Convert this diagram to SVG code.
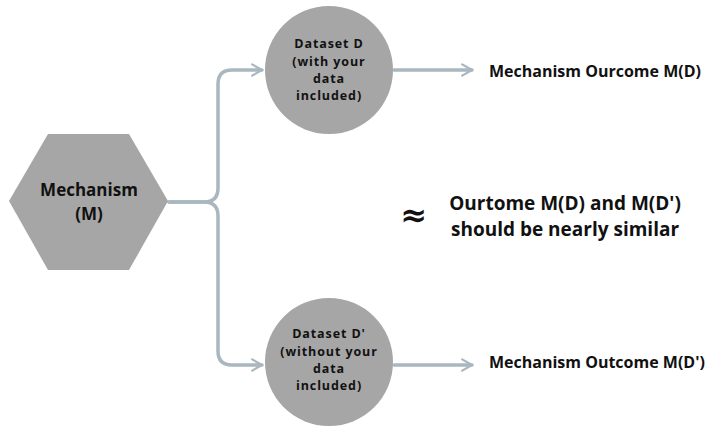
<svg xmlns="http://www.w3.org/2000/svg" width="711" height="429" viewBox="0 0 711 429">
<defs>
<style>
.shape{fill:#a6a6a6;}
.conn{fill:none;stroke:#a9b7c0;stroke-width:3.5;stroke-linecap:round;stroke-linejoin:round;}
.t{font-family:"Open Sans","Noto Sans",sans-serif;font-weight:bold;fill:#111;text-anchor:middle;}
.s{font-size:12.5px;letter-spacing:0.9px;}
.m{font-size:17px;}
.l{font-size:19px;}
.o{font-size:16px;text-anchor:start;}
</style>
<marker id="arr" viewBox="0 0 10 10" refX="8" refY="5" markerWidth="4" markerHeight="4" orient="auto" markerUnits="strokeWidth">
<path d="M1,1 L8,5 L1,9" fill="none" stroke="#a9b7c0" stroke-width="1.6" stroke-linecap="round" stroke-linejoin="round"/>
</marker>
</defs>
<rect width="711" height="429" fill="#fff"/>
<g id="connectors">
<path class="conn" d="M169,202 H204 Q218,202 218,188 V84 Q218,70 232,70 H262" marker-end="url(#arr)"/>
<path class="conn" d="M169,202 H204 Q218,202 218,216 V351 Q218,365 232,365 H262" marker-end="url(#arr)"/>
<path class="conn" d="M394,70 H472" marker-end="url(#arr)"/>
<path class="conn" d="M394,365 H472" marker-end="url(#arr)"/>
</g>
<g id="mechanism">
<polygon class="shape" points="9,201 48,134 129,134 168,201 129,270 48,270"/>
<text class="t m" x="89" y="196">Mechanism</text>
<text class="t m" x="89" y="220">(M)</text>
</g>
<g id="datasetD">
<circle class="shape" cx="329" cy="70" r="64"/>
<text class="t s" x="329" y="48">Dataset D</text>
<text class="t s" x="329" y="66">(with your</text>
<text class="t s" x="329" y="83">data</text>
<text class="t s" x="329" y="100">included)</text>
</g>
<g id="datasetD2">
<circle class="shape" cx="329" cy="362" r="64"/>
<text class="t s" x="329" y="338">Dataset D'</text>
<text class="t s" x="329" y="356">(without your</text>
<text class="t s" x="329" y="373">data</text>
<text class="t s" x="329" y="390">included)</text>
</g>
<g id="outcomeD">
<text class="t o" x="489" y="77">Mechanism Ourcome M(D)</text>
</g>
<g id="outcomeD2">
<text class="t o" x="489" y="368">Mechanism Outcome M(D')</text>
</g>
<g id="similar">
<text class="t" style="font-family:'DejaVu Sans',sans-serif;font-size:32px" x="414" y="226">≈</text>
<text class="t l" x="565" y="210">Ourtome M(D) and M(D')</text>
<text class="t l" x="565" y="236">should be nearly similar</text>
</g>
</svg>
